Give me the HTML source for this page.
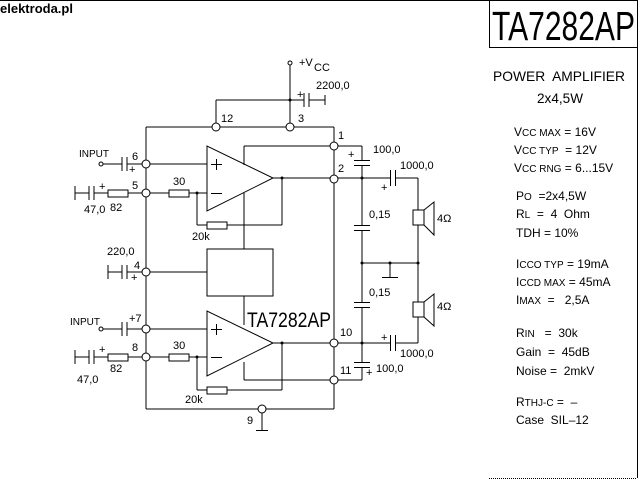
<!DOCTYPE html>
<html><head><meta charset="utf-8"><style>
html,body{margin:0;padding:0;background:#fff}
svg{display:block}
text{font-family:"Liberation Sans",sans-serif;fill:#000;white-space:pre}
</style></head><body>
<svg width="640" height="480" viewBox="0 0 640 480" xmlns="http://www.w3.org/2000/svg" xml:space="preserve">
<g stroke="#000" stroke-width="1" fill="none">
<line x1="0" y1="0.5" x2="637" y2="0.5"/>
<line x1="489.5" y1="0" x2="489.5" y2="48"/>
<line x1="489.5" y1="47.5" x2="637" y2="47.5"/>
<line x1="637.5" y1="0" x2="637.5" y2="478"/>
<line x1="489" y1="478.5" x2="637" y2="478.5" stroke-dasharray="1,1"/>

<!-- VCC -->
<circle cx="290" cy="63" r="2"/>
<line x1="290" y1="65" x2="290" y2="123"/>
<line x1="216" y1="100" x2="304" y2="100"/>
<line x1="216" y1="100" x2="216" y2="123"/>
<line x1="304" y1="93" x2="304" y2="107"/><line x1="309" y1="93" x2="309" y2="107"/>
<line x1="309" y1="100" x2="325" y2="100"/><line x1="325" y1="95" x2="325" y2="105"/>
<!-- top rail -->
<line x1="146" y1="127" x2="212" y2="127"/><line x1="220" y1="127" x2="286" y2="127"/><line x1="294" y1="127" x2="334" y2="127"/>
<line x1="334" y1="127" x2="334" y2="142"/>
<line x1="146" y1="127" x2="146" y2="160"/>
<!-- left vertical -->
<line x1="146" y1="168" x2="146" y2="189"/><line x1="146" y1="197" x2="146" y2="268"/><line x1="146" y1="276" x2="146" y2="325"/><line x1="146" y1="333" x2="146" y2="353"/><line x1="146" y1="361" x2="146" y2="409"/>
<line x1="146" y1="409" x2="258" y2="409"/><line x1="266" y1="409" x2="334" y2="409"/>
<line x1="262" y1="413" x2="262" y2="430"/><line x1="256" y1="430.5" x2="268" y2="430.5"/>
<!-- right pins vertical -->
<line x1="334" y1="150" x2="334" y2="175"/><line x1="334" y1="183" x2="334" y2="339"/><line x1="334" y1="347" x2="334" y2="376"/><line x1="334" y1="384" x2="334" y2="409"/>
<!-- pin circles -->
<circle cx="216" cy="127" r="4" fill="#fff"/><circle cx="290" cy="127" r="4" fill="#fff"/>
<circle cx="334" cy="146" r="4" fill="#fff"/><circle cx="334" cy="179" r="4" fill="#fff"/>
<circle cx="146" cy="164" r="4" fill="#fff"/><circle cx="146" cy="193" r="4" fill="#fff"/>
<circle cx="146" cy="272" r="4" fill="#fff"/><circle cx="146" cy="329" r="4" fill="#fff"/>
<circle cx="146" cy="357" r="4" fill="#fff"/><circle cx="262" cy="409" r="4" fill="#fff"/>
<circle cx="334" cy="343" r="4" fill="#fff"/><circle cx="334" cy="380" r="4" fill="#fff"/>

<!-- upper amp -->
<polygon points="207,146 207,211 273,178"/>
<line x1="211" y1="164.5" x2="222" y2="164.5"/><line x1="216.5" y1="159" x2="216.5" y2="170"/>
<line x1="211" y1="193.5" x2="222" y2="193.5"/>
<line x1="150" y1="164" x2="207" y2="164"/>
<line x1="150" y1="193" x2="169" y2="193"/><rect x="169" y="190" width="20" height="7"/><line x1="189" y1="193" x2="207" y2="193"/>
<line x1="197" y1="193" x2="197" y2="225"/><line x1="197" y1="225" x2="207" y2="225"/><rect x="207" y="222" width="20" height="7"/><line x1="227" y1="225" x2="282" y2="225"/><line x1="282" y1="225" x2="282" y2="178"/>
<line x1="273" y1="178" x2="330" y2="178"/>
<line x1="244" y1="146" x2="330" y2="146"/><line x1="244" y1="146" x2="244" y2="165"/><line x1="244" y1="193" x2="244" y2="249"/>
<rect x="207" y="249" width="66" height="47"/>
<line x1="150" y1="272" x2="207" y2="272"/>
<!-- inputs upper -->
<circle cx="101" cy="164" r="2"/><line x1="103" y1="164" x2="122" y2="164"/>
<line x1="122" y1="157" x2="122" y2="171"/><line x1="127" y1="157" x2="127" y2="171"/><line x1="127" y1="164" x2="142" y2="164"/>
<line x1="75" y1="186" x2="75" y2="200"/><line x1="75" y1="193" x2="89" y2="193"/>
<line x1="89" y1="186" x2="89" y2="200"/><line x1="94" y1="186" x2="94" y2="200"/><line x1="94" y1="193" x2="108" y2="193"/>
<rect x="108" y="190" width="20" height="7"/><line x1="128" y1="193" x2="142" y2="193"/>
<!-- 220 cap -->
<line x1="108" y1="265" x2="108" y2="279"/><line x1="108" y1="272" x2="122" y2="272"/>
<line x1="122" y1="265" x2="122" y2="279"/><line x1="127" y1="265" x2="127" y2="279"/><line x1="127" y1="272" x2="142" y2="272"/>

<!-- lower amp -->
<polygon points="207,311 207,376 273,343"/>
<line x1="211" y1="329.5" x2="222" y2="329.5"/><line x1="216.5" y1="324" x2="216.5" y2="335"/>
<line x1="211" y1="357.5" x2="222" y2="357.5"/>
<line x1="150" y1="329" x2="207" y2="329"/>
<line x1="150" y1="357" x2="169" y2="357"/><rect x="169" y="354" width="20" height="7"/><line x1="189" y1="357" x2="207" y2="357"/>
<line x1="197" y1="357" x2="197" y2="390"/><line x1="197" y1="390" x2="207" y2="390"/><rect x="207" y="387" width="20" height="7"/><line x1="227" y1="390" x2="282" y2="390"/><line x1="282" y1="390" x2="282" y2="343"/>
<line x1="273" y1="343" x2="330" y2="343"/>
<line x1="244" y1="296" x2="244" y2="325"/><line x1="244" y1="362" x2="244" y2="380"/><line x1="244" y1="380" x2="330" y2="380"/>
<circle cx="101" cy="329" r="2"/><line x1="103" y1="329" x2="122" y2="329"/>
<line x1="122" y1="322" x2="122" y2="336"/><line x1="127" y1="322" x2="127" y2="336"/><line x1="127" y1="329" x2="142" y2="329"/>
<line x1="75" y1="350" x2="75" y2="364"/><line x1="75" y1="357" x2="89" y2="357"/>
<line x1="89" y1="350" x2="89" y2="364"/><line x1="94" y1="350" x2="94" y2="364"/><line x1="94" y1="357" x2="108" y2="357"/>
<rect x="108" y="354" width="20" height="7"/><line x1="128" y1="357" x2="142" y2="357"/>

<!-- right network -->
<line x1="338" y1="146" x2="362" y2="146"/><line x1="362" y1="146" x2="362" y2="160"/>
<line x1="354" y1="160.5" x2="370" y2="160.5"/><line x1="354" y1="165.5" x2="370" y2="165.5"/>
<line x1="362" y1="166" x2="362" y2="225"/>
<line x1="354" y1="225.5" x2="370" y2="225.5"/><line x1="354" y1="230.5" x2="370" y2="230.5"/>
<line x1="362" y1="231" x2="362" y2="302"/>
<line x1="354" y1="302.5" x2="370" y2="302.5"/><line x1="354" y1="307.5" x2="370" y2="307.5"/>
<line x1="362" y1="308" x2="362" y2="362"/>
<line x1="354" y1="362.5" x2="370" y2="362.5"/><line x1="354" y1="367.5" x2="370" y2="367.5"/>
<line x1="362" y1="368" x2="362" y2="380"/><line x1="338" y1="380" x2="362" y2="380"/>
<line x1="338" y1="178" x2="390" y2="178"/>
<line x1="390.5" y1="170" x2="390.5" y2="186"/><line x1="395.5" y1="170" x2="395.5" y2="186"/>
<line x1="396" y1="178" x2="418" y2="178"/><line x1="418" y1="178" x2="418" y2="210"/>
<rect x="413" y="210" width="11" height="15"/><polyline points="424,210 434,202 434,235 424,225"/>
<line x1="418" y1="225" x2="418" y2="302"/>
<line x1="362" y1="263" x2="418" y2="263"/><line x1="390" y1="263" x2="390" y2="277"/><line x1="382" y1="277.5" x2="398" y2="277.5"/>
<rect x="413" y="302" width="11" height="15"/><polyline points="424,302 434,294 434,326 424,317"/>
<line x1="418" y1="317" x2="418" y2="343"/>
<line x1="338" y1="343" x2="390" y2="343"/>
<line x1="390.5" y1="335" x2="390.5" y2="351"/><line x1="395.5" y1="335" x2="395.5" y2="351"/>
<line x1="396" y1="343" x2="418" y2="343"/>
</g>
<g fill="#000">
<circle cx="290" cy="100" r="1.5"/><circle cx="282" cy="178" r="1.5"/><circle cx="197" cy="193" r="1.5"/>
<circle cx="282" cy="343" r="1.5"/><circle cx="197" cy="357" r="1.5"/>
<circle cx="362" cy="178" r="1.5"/><circle cx="362" cy="263" r="1.5"/><circle cx="390" cy="263" r="1.5"/><circle cx="418" cy="263" r="1.5"/><circle cx="362" cy="343" r="1.5"/>
</g>
<g font-size="11">
<text x="0" y="13" font-weight="bold" font-size="13">elektroda.pl</text>
<text x="299" y="66">+V</text><text x="314" y="71">CC</text>
<text x="297" y="98">+</text><text x="316" y="89">2200,0</text>
<text x="221" y="122">12</text><text x="298" y="122">3</text>
<text x="338" y="139">1</text><text x="338" y="172">2</text>
<text x="79" y="157" font-size="10">INPUT</text>
<text x="132" y="160">6</text><text x="129" y="173">+</text>
<text x="132" y="189">5</text><text x="99" y="190">+</text>
<text x="84" y="213">47,0</text><text x="110" y="211">82</text>
<text x="173" y="185">30</text><text x="192" y="240">20k</text>
<text x="107" y="255">220,0</text><text x="134" y="269">4</text><text x="131" y="281">+</text>
<text x="70" y="325" font-size="10">INPUT</text>
<text x="129" y="322">+7</text>
<text x="132" y="351">8</text><text x="99" y="353">+</text>
<text x="77" y="383">47,0</text><text x="110" y="372">82</text>
<text x="173" y="349">30</text><text x="185" y="403">20k</text>
<text x="247" y="424">9</text>
<text x="340" y="336">10</text><text x="340" y="374">11</text>
<text x="373" y="153">100,0</text><text x="348" y="158">+</text>
<text x="400" y="169">1000,0</text><text x="381" y="191">+</text>
<text x="369" y="218">0,15</text><text x="369" y="296">0,15</text>
<text x="437" y="222">4Ω</text><text x="437" y="310">4Ω</text>
<text x="381" y="341">+</text><text x="400" y="357">1000,0</text>
<text x="376" y="372">100,0</text><text x="366" y="376">+</text>
</g>
<text x="247" y="327" font-size="21" textLength="84" lengthAdjust="spacingAndGlyphs">TA7282AP</text>
<text x="492" y="40" font-size="41" textLength="143" lengthAdjust="spacingAndGlyphs">TA7282AP</text>
<g font-size="14">
<text x="493" y="81" textLength="132" lengthAdjust="spacingAndGlyphs">POWER  AMPLIFIER</text>
<text x="537" y="103" textLength="46" lengthAdjust="spacingAndGlyphs">2x4,5W</text>
</g>
<g font-size="12">
<text x="514" y="136">V<tspan font-size="10">CC MAX</tspan> = 16V</text>
<text x="514" y="154">V<tspan font-size="10">CC TYP</tspan>  = 12V</text>
<text x="514" y="172">V<tspan font-size="10">CC RNG</tspan> = 6...15V</text>
<text x="516" y="200">P<tspan font-size="10">O</tspan>  =2x4,5W</text>
<text x="516" y="218">R<tspan font-size="10">L</tspan>  =  4  Ohm</text>
<text x="516" y="237">TDH = 10%</text>
<text x="516" y="268">I<tspan font-size="10">CCO TYP</tspan> = 19mA</text>
<text x="516" y="286">I<tspan font-size="10">CCD MAX</tspan> = 45mA</text>
<text x="516" y="304">I<tspan font-size="10">MAX</tspan>  =   2,5A</text>
<text x="516" y="337">R<tspan font-size="10">IN</tspan>   =  30k</text>
<text x="516" y="356">Gain  =  45dB</text>
<text x="516" y="375">Noise =  2mkV</text>
<text x="516" y="406">R<tspan font-size="10">THJ-C</tspan> =  –</text>
<text x="516" y="424">Case  SIL–12</text>
</g>
</svg>
</body></html>
